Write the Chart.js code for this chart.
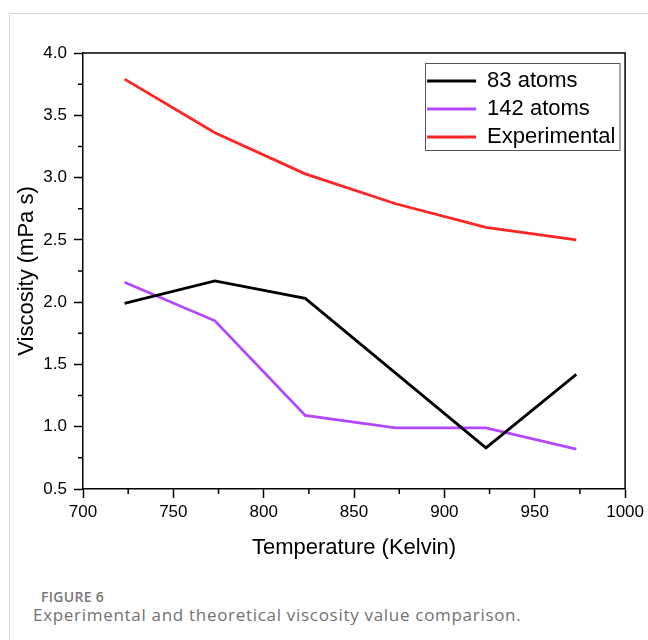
<!DOCTYPE html>
<html>
<head>
<meta charset="utf-8">
<script src="https://cdn.jsdelivr.net/npm/chart.js@4.4.1/dist/chart.umd.min.js"></script>
<style>
  body { margin: 0; background: #fff; width: 648px; height: 640px; overflow: hidden; position: relative; }
  #card { position: absolute; left: 9px; top: 13px; right: -2px; bottom: -2px; border-top: 1px solid #d6d6d6; border-left: 1px solid #d6d6d6; }
  #wrap { position: absolute; left: 0; top: 0; width: 648px; height: 575px; }
  #fig { position: absolute; left: 41px; top: 587px; font: 600 14px "Open Sans", sans-serif; color: #777; letter-spacing: 0.3px; }
  #cap { position: absolute; left: 33px; top: 603px; font: 400 17px "Open Sans", sans-serif; color: #727272; letter-spacing: 0.7px; }
</style>
</head>
<body>
<div id="card"></div>
<div id="wrap"><canvas id="viscosity" width="648" height="575"></canvas></div>
<div id="fig">FIGURE 6</div>
<div id="cap">Experimental and theoretical viscosity value comparison.</div>
<script>
// temperatures (K) and viscosities (mPa s)
var temps = [723, 773, 823, 873, 923, 973];
var atoms83 = [1.99, 2.17, 2.03, 1.43, 0.83, 1.42];
var atoms142 = [2.16, 1.85, 1.09, 0.99, 0.99, 0.82];
var experimental = [3.79, 3.36, 3.03, 2.79, 2.60, 2.50];
var seriesNames = ['83 atoms', '142 atoms', 'Experimental'];
var seriesColors = ['#000000', '#b348ff', '#ff2525'];

var xTicks = [700, 750, 800, 850, 900, 950, 1000];
var yTicks = [0.5, 1.0, 1.5, 2.0, 2.5, 3.0, 3.5, 4.0];

function points(vals) {
  return temps.map(function (t, i) { return {x: t, y: vals[i]}; });
}

// minor ticks, top/right frame and the legend box
var framePlugin = {
  id: 'frame',
  afterLayout: function (chart) {
    var lg = chart.legend, a = chart.chartArea, p = lg.options.labels.padding;
    lg.left = a.right - 198 - p;
    lg.right = lg.left + lg.width;
    lg.top = a.top + 11;
  },
  afterDraw: function (chart) {
    var c = chart.ctx, a = chart.chartArea;
    var xs = chart.scales.x, ys = chart.scales.y;
    c.save();
    c.strokeStyle = '#000';
    c.lineWidth = 1.5;
    c.beginPath();
    c.moveTo(a.left, a.top); c.lineTo(a.right, a.top); c.lineTo(a.right, a.bottom);
    for (var i = 0; i < xTicks.length - 1; i++) {
      var px = xs.getPixelForValue((xTicks[i] + xTicks[i + 1]) / 2);
      c.moveTo(px, a.bottom); c.lineTo(px, a.bottom + 5);
    }
    for (var j = 0; j < yTicks.length - 1; j++) {
      var py = ys.getPixelForValue((yTicks[j] + yTicks[j + 1]) / 2);
      c.moveTo(a.left, py); c.lineTo(a.left - 5, py);
    }
    c.stroke();
    var lg = chart.legend, p = lg.options.labels.padding;
    var bx = Math.round(lg.left + p - 2) + 0.5, by = Math.round(lg.top) - 0.5;
    c.strokeStyle = '#555';
    c.lineWidth = 1;
    c.strokeRect(bx, by, Math.round(a.right - 5) - bx, Math.round(lg.columnSizes[0].height + 3));
    c.restore();
  }
};

var ctx = document.getElementById('viscosity');
var viscosityChart = new Chart(ctx, {
  type: 'line',
  data: {
    datasets: [atoms83, atoms142, experimental].map(function (vals, i) {
      return {
        label: seriesNames[i],
        data: points(vals),
        borderColor: seriesColors[i],
        backgroundColor: seriesColors[i],
        borderWidth: 2.8,
        pointRadius: 0,
        tension: 0
      };
    })
  },
  options: {
    responsive: false,
    animation: false,
    events: [],
    layout: { padding: { left: 0, top: 53, right: 22, bottom: 11 } },
    plugins: {
      tooltip: { enabled: false },
      legend: {
        position: 'chartArea',
        align: 'start',
        labels: {
          boxWidth: 49,
          boxHeight: 3,
          padding: 6,
          color: '#000',
          font: { family: 'Liberation Sans, Arial, sans-serif', size: 22 },
          generateLabels: function (chart) {
            return chart.data.datasets.map(function (ds, i) {
              return { text: ds.label, fillStyle: ds.borderColor, strokeStyle: ds.borderColor, lineWidth: 0, datasetIndex: i };
            });
          }
        }
      }
    },
    scales: {
      x: {
        type: 'linear',
        min: 700,
        max: 1000,
        afterFit: function (s) { s.height = 75; },
        afterBuildTicks: function (s) { s.ticks = xTicks.map(function (v) { return {value: v}; }); },
        ticks: { color: '#000', padding: 4, font: { family: 'Liberation Sans, Arial, sans-serif', size: 17 },
          callback: function (v) { return String(v); } },
        grid: { drawOnChartArea: false, tickLength: 9, tickWidth: 1.5, tickColor: '#000' },
        border: { color: '#000', width: 1.5 },
        title: { display: true, text: 'Temperature (Kelvin)', color: '#000', padding: { top: 0, bottom: 3 },
          font: { family: 'Liberation Sans, Arial, sans-serif', size: 22 } }
      },
      y: {
        min: 0.5,
        max: 4.0,
        afterFit: function (s) { s.width = 83; },
        afterBuildTicks: function (s) { s.ticks = yTicks.map(function (v) { return {value: v}; }); },
        ticks: { color: '#000', padding: 7, font: { family: 'Liberation Sans, Arial, sans-serif', size: 17 },
          callback: function (v) { return v.toFixed(1); } },
        grid: { drawOnChartArea: false, tickLength: 9, tickWidth: 1.5, tickColor: '#000' },
        border: { color: '#000', width: 1.5 },
        title: { display: true, text: 'Viscosity (mPa s)', color: '#000', padding: { top: 14, bottom: 0 },
          font: { family: 'Liberation Sans, Arial, sans-serif', size: 22 } }
      }
    }
  },
  plugins: [framePlugin]
});
</script>
</body>
</html>
